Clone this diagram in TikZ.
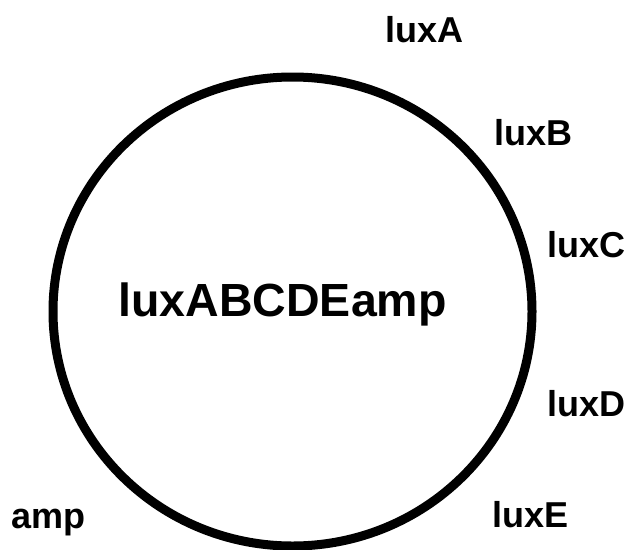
\documentclass[tikz,border=0pt]{standalone}
\usepackage{fontspec}
\setmainfont{Liberation Sans}
\begin{document}
\begin{tikzpicture}[x=1pt,y=-1pt,
  lbl/.style={font=\bfseries\fontsize{36}{42}\selectfont, anchor=base west, inner sep=0pt, outer sep=0pt},
  big/.style={font=\bfseries\fontsize{46.5}{52}\selectfont, anchor=base west, inner sep=0pt, outer sep=0pt}]
\useasboundingbox (0,0) rectangle (629,549);
\draw[line width=9pt] (292.5,311.5) ellipse [x radius=239.5pt, y radius=234.5pt];
\node[big] (main) at (118.5,316) {luxABCDEamp};
\node[lbl] (luxA) at (385.5,42) {luxA};
\node[lbl] (luxB) at (494.5,145) {luxB};
\node[lbl] (luxC) at (547.5,257) {luxC};
\node[lbl] (luxD) at (547.5,416) {luxD};
\node[lbl] (luxE) at (492.5,527) {luxE};
\node[lbl] (amp) at (11,528) {amp};
\end{tikzpicture}
\end{document}
